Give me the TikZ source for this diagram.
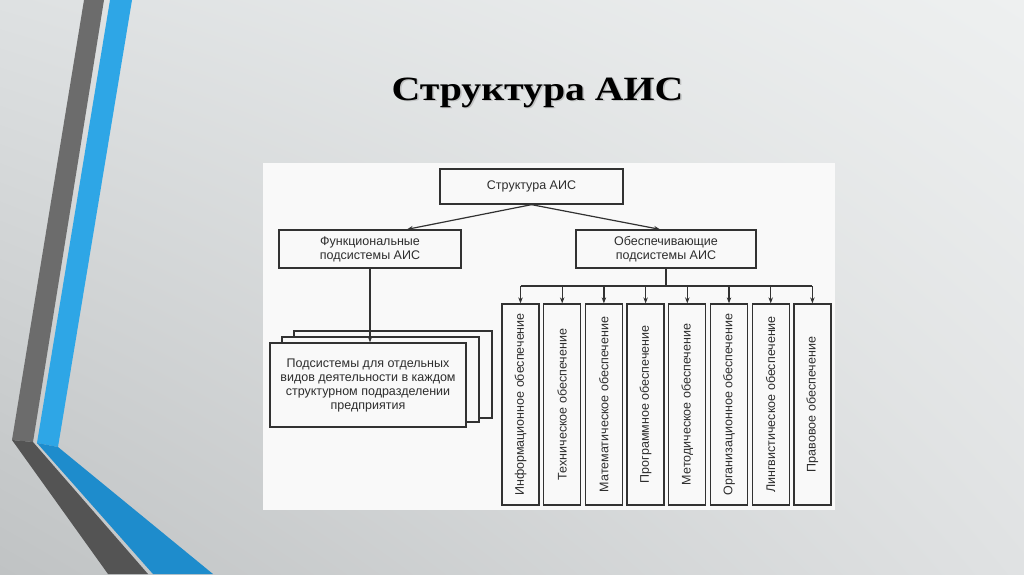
\documentclass[tikz,border=0pt]{standalone}
\usepackage{fontspec}
\setmainfont{Liberation Serif}
\newfontfamily\diagfont{Liberation Sans}
\usetikzlibrary{arrows.meta,calc,shadings}
\definecolor{bgUL}{RGB}{222,225,226}
\definecolor{bgUR}{RGB}{238,240,240}
\definecolor{bgLL}{RGB}{192,195,196}
\definecolor{bgLR}{RGB}{224,226,227}
\definecolor{graytop}{RGB}{108,108,108}
\definecolor{graybot}{RGB}{84,84,84}
\definecolor{bluetop}{RGB}{46,166,230}
\definecolor{bluebot}{RGB}{30,140,204}
\definecolor{linec}{RGB}{50,50,50}
\definecolor{txtc}{RGB}{45,45,45}
\definecolor{panelc}{RGB}{249,249,249}
\tikzset{
  box/.style={draw=linec, line width=1.3pt, fill=panelc, inner sep=0pt, text=txtc,
    font=\diagfont\fontsize{12.5}{14}\selectfont, align=center},
  vbox/.style={box, minimum width=201pt, minimum height=37pt, rotate=90},
  stackbox/.style={box, minimum width=196pt, minimum height=84pt},
  conn/.style={draw=linec, line width=1.2pt},
  arr/.style={conn, -{Stealth[length=6pt,width=4.5pt]}},
  titlefont/.style={font=\bfseries\fontsize{34}{40}\selectfont, anchor=base, xscale=1.17, inner sep=0pt}
}
\begin{document}
\begin{tikzpicture}[x=1pt,y=-1pt]
\useasboundingbox (0,0) rectangle (1024,574);
% background
\shade[upper left=bgUL, upper right=bgUR, lower left=bgLL, lower right=bgLR] (0,0) rectangle (1024,574);
% decorative stripes
\fill[graytop] (84,0) -- (104,0) -- (33,442) -- (12,440) -- cycle;
\fill[graybot] (12,440) -- (33,442) -- (148,574) -- (108,574) -- cycle;
\fill[bluetop] (110,0) -- (132,0) -- (58,447) -- (37,443) -- cycle;
\fill[bluebot] (37,443) -- (58,447) -- (213,574) -- (153,574) -- cycle;
% title
\node[titlefont, text=black!45, opacity=0.4] (titleshadow) at (539,101.5) {Структура АИС};
\node[titlefont, text=black] (title) at (537.5,100) {Структура АИС};
% panel
\fill[panelc] (263,163) rectangle (835,510);
% top level
\node[box, minimum width=183pt, minimum height=35pt] (top) at (531.5,186.5) {Структура АИС};
\node[box, minimum width=182pt, minimum height=38pt] (func) at (370,249) {Функциональные\\подсистемы АИС};
\node[box, minimum width=180pt, minimum height=38pt] (obes) at (666,249) {Обеспечивающие\\подсистемы АИС};
\draw[arr] (top.south) -- ([xshift=37pt]func.north);
\draw[arr] (top.south) -- ([xshift=-6pt]obes.north);
% stacked boxes
\node[stackbox, minimum width=198pt, minimum height=87pt] (back) at (393,374.5) {};
\node[stackbox, minimum width=197pt, minimum height=85pt] (mid) at (380.5,379.5) {};
\node[stackbox] (front) at (368,385) {Подсистемы для отдельных\\видов деятельности в каждом\\структурном подразделении\\предприятия};
\draw[arr] (func.south) -- (func.south |- front.north);
% vertical boxes
\foreach \i/\t in {0/Информационное обеспечение,1/Техническое обеспечение,2/Математическое обеспечение,3/Программное обеспечение,4/Методическое обеспечение,5/Организационное обеспечение,6/Лингвистическое обеспечение,7/Правовое обеспечение}{
  \node[vbox] (v\i) at ({520.5+41.7*\i},404.5) {\t};
}
\coordinate (bus) at (666,286);
\draw[conn] (obes.south) -- (bus);
\draw[conn] (v0.east |- bus) -- (v7.east |- bus);
\foreach \i in {0,...,7}{
  \draw[arr] (v\i.east |- bus) -- (v\i.east);
}
\end{tikzpicture}
\end{document}
